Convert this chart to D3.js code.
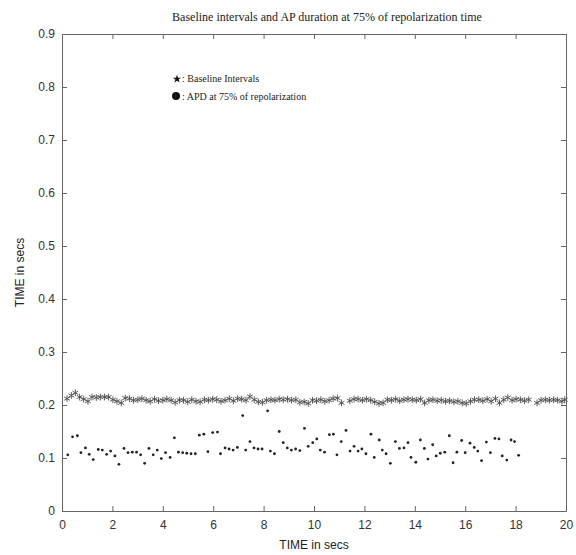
<!DOCTYPE html>
<html>
<head>
<meta charset="utf-8">
<script src="https://cdnjs.cloudflare.com/ajax/libs/d3/7.8.5/d3.min.js"></script>
<style>
  html, body { margin: 0; padding: 0; background: #fff; }
  svg { display: block; }
  .tick text { font-family: "Liberation Sans", Arial, sans-serif; font-size: 12px; fill: #333; }
</style>
</head>
<body>
<div id="chart"></div>
<script>
// Baseline intervals (asterisks)
const baseTimes = [0.20, 0.37, 0.53, 0.70, 0.86, 1.03, 1.19, 1.36, 1.52, 1.69, 1.85, 2.02, 2.18, 2.35, 2.51, 2.68, 2.84, 3.01, 3.17, 3.34,
  3.50, 3.67, 3.83, 4.00, 4.16, 4.33, 4.49, 4.66, 4.82, 4.99, 5.15, 5.32, 5.48, 5.65, 5.81, 5.98, 6.14, 6.31, 6.47, 6.64,
  6.80, 6.97, 7.13, 7.30, 7.46, 7.63, 7.79, 7.96, 8.12, 8.29, 8.45, 8.62, 8.78, 8.95, 9.11, 9.28, 9.44, 9.61, 9.77, 9.94,
  10.10, 10.27, 10.43, 10.60, 10.76, 10.93, 11.09, 11.42, 11.59, 11.75, 11.92, 12.08, 12.25, 12.41, 12.58, 12.74, 12.91,
  13.07, 13.24, 13.40, 13.57, 13.73, 13.90, 14.06, 14.23, 14.39, 14.56, 14.72, 14.89, 15.05, 15.22, 15.38, 15.55, 15.71, 15.88, 16.04, 16.21,
  16.37, 16.54, 16.70, 16.87, 17.03, 17.20, 17.36, 17.53, 17.69, 17.86, 18.02, 18.19, 18.35, 18.52, 18.85, 19.01, 19.18, 19.34,
  19.51, 19.67, 19.84, 19.95];
const baseValues = [0.212, 0.218, 0.223, 0.215, 0.211, 0.207, 0.215, 0.214, 0.215, 0.215, 0.215, 0.210, 0.207, 0.204, 0.213, 0.212, 0.209, 0.210, 0.212, 0.209,
  0.207, 0.211, 0.208, 0.209, 0.211, 0.209, 0.205, 0.209, 0.209, 0.206, 0.210, 0.207, 0.206, 0.210, 0.209, 0.211, 0.210, 0.207, 0.209, 0.212,
  0.208, 0.212, 0.211, 0.209, 0.216, 0.210, 0.206, 0.205, 0.209, 0.210, 0.209, 0.211, 0.210, 0.211, 0.209, 0.210, 0.205, 0.206, 0.203, 0.209,
  0.208, 0.210, 0.207, 0.209, 0.212, 0.213, 0.204, 0.208, 0.211, 0.211, 0.209, 0.211, 0.209, 0.206, 0.203, 0.204, 0.210,
  0.209, 0.211, 0.208, 0.210, 0.211, 0.210, 0.209, 0.211, 0.204, 0.209, 0.210, 0.208, 0.209, 0.207, 0.208, 0.206, 0.207, 0.204, 0.203, 0.207,
  0.210, 0.210, 0.208, 0.211, 0.207, 0.212, 0.204, 0.210, 0.214, 0.209, 0.211, 0.210, 0.208, 0.210, 0.204, 0.209, 0.210, 0.209, 0.210,
  0.209, 0.207, 0.210, 0.213];

// APD at 75% of repolarization (dots)
const apdTimes = [0.23, 0.42, 0.61, 0.75, 0.93, 1.08, 1.24, 1.44, 1.60, 1.77, 1.93, 2.10, 2.26, 2.46, 2.62, 2.79, 2.96, 3.12, 3.28, 3.45,
  3.62, 3.78, 3.94, 4.11, 4.29, 4.46, 4.62, 4.79, 4.95, 5.12, 5.29, 5.45, 5.63, 5.79, 5.98, 6.17, 6.29, 6.47, 6.63, 6.79,
  6.96, 7.17, 7.29, 7.46, 7.62, 7.78, 7.94, 8.16, 8.27, 8.43, 8.62, 8.78, 8.94, 9.10, 9.27, 9.44, 9.62, 9.77, 9.95, 10.11,
  10.25, 10.42, 10.61, 10.77, 10.91, 11.08, 11.27, 11.43, 11.59, 11.75, 11.90, 12.06, 12.26, 12.39, 12.59, 12.71, 12.86, 13.03, 13.23, 13.39,
  13.57, 13.73, 13.85, 14.04, 14.22, 14.38, 14.52, 14.71, 14.85, 15.01, 15.19, 15.37, 15.52, 15.67, 15.86, 16.00, 16.19, 16.36, 16.50, 16.65,
  16.84, 17.00, 17.18, 17.34, 17.47, 17.65, 17.82, 17.96, 18.12];
const apdValues = [0.106, 0.140, 0.142, 0.110, 0.119, 0.107, 0.097, 0.116, 0.115, 0.107, 0.113, 0.104, 0.088, 0.118, 0.110, 0.111, 0.111, 0.106, 0.090, 0.118,
  0.106, 0.115, 0.099, 0.110, 0.101, 0.138, 0.111, 0.110, 0.109, 0.108, 0.108, 0.143, 0.145, 0.112, 0.148, 0.149, 0.108, 0.119, 0.117, 0.115,
  0.120, 0.180, 0.115, 0.131, 0.119, 0.117, 0.117, 0.189, 0.113, 0.108, 0.150, 0.129, 0.119, 0.115, 0.117, 0.114, 0.156, 0.122, 0.129, 0.136,
  0.115, 0.111, 0.144, 0.145, 0.106, 0.131, 0.152, 0.113, 0.122, 0.113, 0.117, 0.108, 0.145, 0.101, 0.134, 0.115, 0.108, 0.090, 0.131, 0.118,
  0.119, 0.129, 0.101, 0.092, 0.134, 0.118, 0.098, 0.125, 0.104, 0.109, 0.111, 0.142, 0.091, 0.111, 0.133, 0.110, 0.128, 0.120, 0.113, 0.095,
  0.130, 0.110, 0.137, 0.136, 0.104, 0.096, 0.134, 0.131, 0.105];

const xTicks = [0, 2, 4, 6, 8, 10, 12, 14, 16, 18, 20];
const yTicks = [0, 0.1, 0.2, 0.3, 0.4, 0.5, 0.6, 0.7, 0.8, 0.9];

const W = 576, H = 555;
const margin = { top: 34, right: 10, bottom: 44, left: 62 };
const width = W - margin.left - margin.right;
const height = H - margin.top - margin.bottom;

const svg = d3.select('#chart').append('svg')
  .attr('width', W)
  .attr('height', H);
svg.append('rect').attr('width', W).attr('height', H).attr('fill', '#fff');

const g = svg.append('g').attr('transform', `translate(${margin.left},${margin.top})`);

const x = d3.scaleLinear().domain([0, 20]).range([0, width]);
const y = d3.scaleLinear().domain([0, 0.9]).range([height, 0]);

// box + inward ticks on all sides
const axisColor = '#666';
function styleAxis(sel) {
  sel.select('.domain').attr('stroke', axisColor);
  sel.selectAll('.tick line').attr('stroke', axisColor);
}
g.append('g').attr('transform', `translate(0,${height})`)
  .call(d3.axisBottom(x).tickValues(xTicks).tickSizeInner(-5).tickSizeOuter(0).tickPadding(9).tickFormat(d3.format('d')))
  .call(styleAxis);
g.append('g')
  .call(d3.axisTop(x).tickValues(xTicks).tickSizeInner(-5).tickSizeOuter(0).tickFormat(''))
  .call(styleAxis);
g.append('g')
  .call(d3.axisLeft(y).tickValues(yTicks).tickSizeInner(-5).tickSizeOuter(0).tickPadding(7).tickFormat(d => d === 0 ? '0' : d3.format('.1f')(d)))
  .call(styleAxis);
g.append('g').attr('transform', `translate(${width},0)`)
  .call(d3.axisRight(y).tickValues(yTicks).tickSizeInner(-5).tickSizeOuter(0).tickFormat(''))
  .call(styleAxis);

// baseline interval asterisks
const star = d3.symbol().type(d3.symbolAsterisk).size(32);
g.selectAll('.star')
  .data(baseTimes.map((t, i) => [t, baseValues[i]]))
  .enter().append('path')
  .attr('class', 'star')
  .attr('transform', d => `translate(${x(d[0])},${y(d[1])})`)
  .attr('d', star)
  .attr('fill', 'none')
  .attr('stroke', '#4a4a4a')
  .attr('stroke-width', 0.9);

// APD dots
g.selectAll('.apd')
  .data(apdTimes.map((t, i) => [t, apdValues[i]]))
  .enter().append('circle')
  .attr('class', 'apd')
  .attr('cx', d => x(d[0]))
  .attr('cy', d => y(d[1]))
  .attr('r', 1.4)
  .attr('fill', '#222');

// legend
const leg = svg.append('g').attr('font-family', '"Liberation Serif", "Times New Roman", serif').attr('font-size', 10).attr('fill', '#222');
leg.append('path').attr('transform', 'translate(177,79)').attr('d', d3.symbol().type(d3.symbolStar).size(22)).attr('fill', '#111');
leg.append('text').attr('x', 182).attr('y', 82).text(': Baseline Intervals');
leg.append('circle').attr('cx', 176).attr('cy', 96).attr('r', 4).attr('fill', '#111');
leg.append('text').attr('x', 182).attr('y', 99.5).text(': APD at 75% of repolarization');

// title and axis labels
svg.append('text')
  .attr('x', 327).attr('y', 21)
  .attr('text-anchor', 'middle')
  .attr('font-family', '"Liberation Serif", "Times New Roman", serif')
  .attr('font-size', 12)
  .attr('fill', '#222')
  .text('Baseline intervals and AP duration at 75% of repolarization time');

svg.append('text')
  .attr('x', margin.left + width / 2).attr('y', 549)
  .attr('text-anchor', 'middle')
  .attr('font-family', '"Liberation Sans", Arial, sans-serif')
  .attr('font-size', 12)
  .attr('fill', '#222')
  .text('TIME in secs');

svg.append('text')
  .attr('transform', `translate(24,${margin.top + height / 2}) rotate(-90)`)
  .attr('text-anchor', 'middle')
  .attr('font-family', '"Liberation Sans", Arial, sans-serif')
  .attr('font-size', 12)
  .attr('fill', '#222')
  .text('TIME in secs');
</script>
</body>
</html>
